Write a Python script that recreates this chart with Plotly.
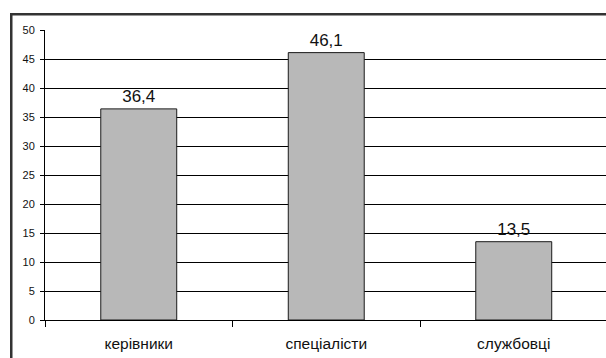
import plotly.graph_objects as go

categories = ["керівники", "спеціалісти", "службовці"]
values = [36.4, 46.1, 13.5]
y_ticks = [0, 5, 10, 15, 20, 25, 30, 35, 40, 45, 50]

labels = [f"{v:.1f}".replace(".", ",") for v in values]

fig = go.Figure()
fig.add_trace(go.Bar(
    x=categories,
    y=values,
    width=0.405,
    marker=dict(color="#b8b8b8", line=dict(color="#1a1a1a", width=1)),
    text=labels,
    textposition="outside",
    textfont=dict(family="Liberation Sans, Arial", size=17, color="#111"),
    cliponaxis=False,
))

fig.update_layout(
    width=606, height=358,
    margin=dict(l=45, r=0, t=30, b=38),
    paper_bgcolor="white", plot_bgcolor="white",
    showlegend=False,
    font=dict(family="Liberation Sans, Arial", color="#111"),
    xaxis=dict(
        type="category",
        range=[-0.5, 2.492],
        showgrid=False, showline=True, linecolor="#000", linewidth=1,
        zeroline=False,
        ticks="outside", tickson="boundaries", ticklen=6, tickcolor="#000",
        tickfont=dict(size=15.5), ticklabelstandoff=9,
    ),
    yaxis=dict(
        range=[0, 50],
        tickmode="array", tickvals=y_ticks,
        showgrid=True, gridcolor="#000", gridwidth=1,
        showline=True, linecolor="#000", linewidth=1,
        zeroline=False,
        ticks="outside", ticklen=4, tickcolor="#000",
        tickfont=dict(size=11), ticklabelstandoff=3,
    ),
)

# outer chart frame: a bordered box whose right and bottom edges run off the page
frame_x = (10 - 45) / 561
frame_y = 1 + 17 / 290
fig.add_annotation(
    xref="paper", yref="paper", x=frame_x, y=frame_y,
    xanchor="left", yanchor="top",
    text=" ", showarrow=False,
    width=640, height=400, borderpad=0,
    bordercolor="#333", borderwidth=2.5,
)

fig.write_html("out.html")
